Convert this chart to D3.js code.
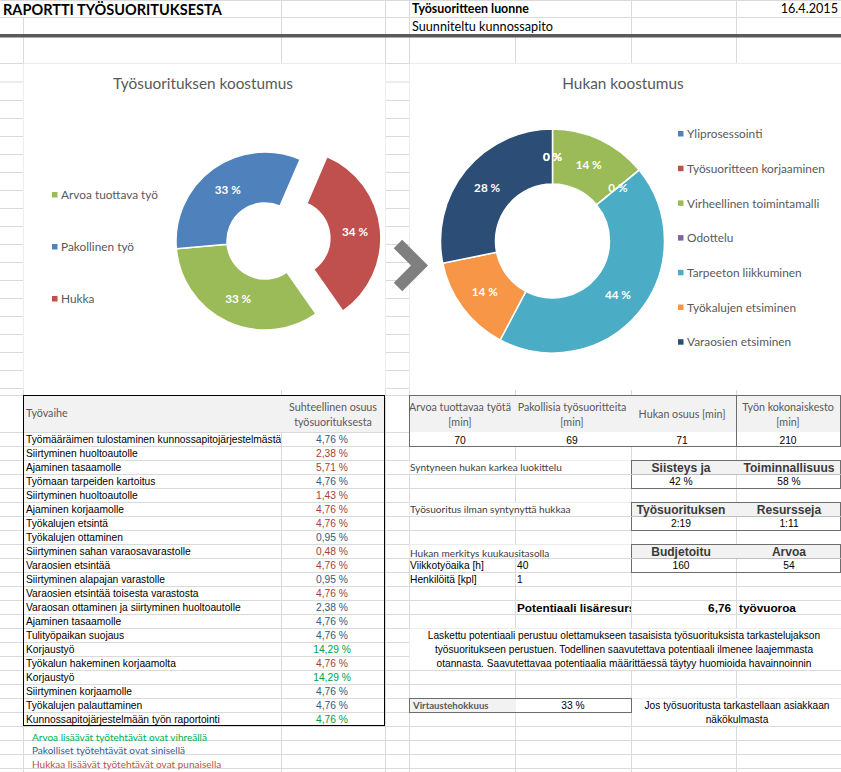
<!DOCTYPE html>
<html>
<head>
<meta charset="utf-8">
<script src="https://cdn.jsdelivr.net/npm/d3@7"></script>
<style>
  body { margin: 0; background: #fff; }
  svg { display: block; }
  text { font-family: Lato, "Open Sans", sans-serif; }
  .px { font-family: "Liberation Sans", Arial, sans-serif; }
</style>
</head>
<body>
<svg></svg>
<script>
// --- data ---
const workCategories = ['Arvoa tuottava työ', 'Pakollinen työ', 'Hukka']
const workMinutes = [70, 69, 71]
const workColors = ['#9bbb59', '#4f81bd', '#c0504d']

const wasteCategories = [
  'Yliprosessointi',
  'Työsuoritteen korjaaminen',
  'Virheellinen toimintamalli',
  'Odottelu',
  'Tarpeeton liikkuminen',
  'Työkalujen etsiminen',
  'Varaosien etsiminen',
]
const wasteMinutes = [0, 0, 10, 0, 31, 10, 20]
const wasteColors = ['#4f81bd', '#c0504d', '#9bbb59', '#8064a2', '#4bacc6', '#f79646', '#2c4d75']

const steps = [
  'Työmääräimen tulostaminen kunnossapitojärjestelmästä',
  'Siirtyminen huoltoautolle',
  'Ajaminen tasaamolle',
  'Työmaan tarpeiden kartoitus',
  'Siirtyminen huoltoautolle',
  'Ajaminen korjaamolle',
  'Työkalujen etsintä',
  'Työkalujen ottaminen',
  'Siirtyminen sahan varaosavarastolle',
  'Varaosien etsintää',
  'Siirtyminen alapajan varastolle',
  'Varaosien etsintää toisesta varastosta',
  'Varaosan ottaminen ja siirtyminen huoltoautolle',
  'Ajaminen tasaamolle',
  'Tulityöpaikan suojaus',
  'Korjaustyö',
  'Työkalun hakeminen korjaamolta',
  'Korjaustyö',
  'Siirtyminen korjaamolle',
  'Työkalujen palauttaminen',
  'Kunnossapitojärjestelmään työn raportointi',
]
const stepShares = [4.76, 2.38, 5.71, 4.76, 1.43, 4.76, 4.76, 0.95, 0.48, 4.76, 0.95,
  4.76, 2.38, 4.76, 4.76, 14.29, 4.76, 14.29, 4.76, 4.76, 4.76]
// a = arvoa tuottava, p = pakollinen, h = hukka
const stepTypes = ['p', 'h', 'h', 'p', 'h', 'h', 'h', 'p', 'h', 'h', 'p',
  'h', 'p', 'p', 'p', 'a', 'h', 'a', 'p', 'p', 'a']
const typeColors = { a: '#00a04a', p: '#2f5b86', h: '#a33f3d' }

const minuteHeaders = [['Arvoa tuottavaa työtä', '[min]'], ['Pakollisia työsuoritteita', '[min]'], ['Hukan osuus [min]'], ['Työn kokonaiskesto', '[min]']]
const minuteValues = ['70', '69', '71', '210']
const wasteClassHeaders = ['Siisteys ja', 'Toiminnallisuus']
const wasteClassValues = ['42 %', '58 %']
const noWasteHeaders = ['Työsuorituksen', 'Resursseja']
const noWasteValues = ['2:19', '1:11']
const monthHeaders = ['Budjetoitu', 'Arvoa']
const monthValues = ['160', '54']
const notes = [
  ['Arvoa lisäävät työtehtävät ovat vihreällä', '#00b050'],
  ['Pakolliset työtehtävät ovat sinisellä', '#366092'],
  ['Hukkaa lisäävät työtehtävät ovat punaisella', '#c0504d'],
]
const paragraph = [
  'Laskettu potentiaali perustuu olettamukseen tasaisista työsuorituksista tarkastelujakson',
  'työsuoritukseen perustuen. Todellinen saavutettava potentiaali ilmenee laajemmasta',
  'otannasta. Saavutettavaa potentiaalia määrittäessä täytyy huomioida havainnoinnin',
]

// --- sheet ---
const W = 841, H = 772
const svg = d3.select('svg').attr('width', W).attr('height', H)

// font size that makes a sample string a given width
function sizeFor(sample, cls, weight, width) {
  const t = svg.append('text').attr('class', cls).style('font-weight', weight)
    .style('font-size', '20px').text(sample)
  const len = t.node().getComputedTextLength()
  t.remove()
  return 20 * width / len
}
const fs = {
  title: sizeFor('RAPORTTI TYÖSUORITUKSESTA', '', 'bold', 219),
  headBold: sizeFor('Työsuoritteen luonne', '', 'bold', 117),
  head: sizeFor('Suunniteltu kunnossapito', '', 'normal', 141),
  chartTitle: sizeFor('Työsuorituksen koostumus', '', 'normal', 180),
  legend: sizeFor('Työsuoritteen korjaaminen', '', 'normal', 138),
  slice: sizeFor('44 %', '', 'bold', 26),
  thead: sizeFor('Suhteellinen osuus', '', 'normal', 88),
  section: sizeFor('Syntyneen hukan karkea luokittelu', '', 'normal', 152),
  boxHead: sizeFor('Toiminnallisuus', 'px', 'bold', 91),
  cell: sizeFor('Kunnossapitojärjestelmään työn raportointi', 'px', 'normal', 194),
  para: sizeFor(paragraph[0], 'px', 'normal', 393),
  note: sizeFor(notes[0][0], '', 'normal', 175),
  pot: sizeFor('Potentiaali lisäresur', 'px', 'bold', 112),
}

const colX = [0, 23, 281, 385, 409, 515, 631, 736, 841]
const rowY = [0, 17, 36, 63, 81.5, 100].concat(d3.range(118, 389, 18), [395], d3.range(432, 773, 14))

const grid = svg.append('g').attr('stroke', '#dadada').attr('stroke-width', 1)
grid.selectAll('line.h').data(rowY.filter(y => y !== 36)).enter().append('line')
  .attr('x1', 0).attr('x2', W).attr('y1', d => d + 0.5).attr('y2', d => d + 0.5)
grid.selectAll('line.v').data(colX.slice(1, -1)).enter().append('line')
  .attr('x1', d => d + 0.5).attr('x2', d => d + 0.5)
  .attr('y1', d => d === 23 ? 17 : d === 515 ? 36 : 0).attr('y2', H)

// white areas (charts, merged cells, overflowing text)
const white = [[23, 63.5, 362, 326.5], [409, 63.5, 432, 326.5], [409, 628.5, 432, 41.5], [631.5, 698.5, 209.5, 27],
  [409, 460.5, 222, 13.5], [409, 502.5, 222, 13.5], [409, 544.5, 222, 13.5]]
svg.selectAll('rect.white').data(white).enter().append('rect')
  .attr('x', d => d[0] + 0.5).attr('y', d => d[1]).attr('width', d => d[2]).attr('height', d => d[3])
  .attr('fill', '#fff')

// header
svg.append('rect').attr('x', 0).attr('y', 34).attr('width', W).attr('height', 3.5).attr('fill', '#595959')
svg.append('text').attr('x', 3).attr('y', 14.5).style('font-weight', 'bold').style('font-size', fs.title + 'px')
  .attr('fill', '#000').text('RAPORTTI TYÖSUORITUKSESTA')
svg.append('text').attr('x', 412).attr('y', 13).style('font-weight', 'bold').style('font-size', fs.headBold + 'px')
  .text('Työsuoritteen luonne')
svg.append('text').attr('x', 838).attr('y', 13).attr('text-anchor', 'end').style('font-size', fs.head + 'px')
  .text('16.4.2015')
svg.append('text').attr('x', 412).attr('y', 31).style('font-size', fs.head + 'px')
  .text('Suunniteltu kunnossapito')

// --- donut charts ---
const toRad = Math.PI / 180

function donut(opt) {
  const g = svg.append('g').attr('transform', `translate(${opt.cx},${opt.cy})`)
  const pie = d3.pie().sort(null).startAngle(opt.start * toRad).endAngle(opt.start * toRad + 2 * Math.PI)
  const arc = d3.arc().innerRadius(opt.inner).outerRadius(opt.outer)
  const arcs = pie(opt.values)
  const shift = d => {
    if (opt.explode !== d.index) return [0, 0]
    const a = (d.startAngle + d.endAngle) / 2
    return [Math.sin(a) * opt.offset, -Math.cos(a) * opt.offset]
  }
  g.selectAll('path').data(arcs).enter().append('path')
    .attr('d', arc)
    .attr('transform', d => `translate(${shift(d)})`)
    .attr('fill', d => opt.colors[d.index])
    .attr('stroke', '#fff').attr('stroke-width', 1.5)
  const total = d3.sum(opt.values)
  g.selectAll('text').data(arcs).enter().append('text')
    .attr('transform', d => {
      const c = arc.centroid(d), s = shift(d)
      return `translate(${c[0] + s[0]},${c[1] + s[1]})`
    })
    .attr('text-anchor', 'middle').attr('dy', '0.36em')
    .style('font-weight', 'bold').style('font-size', fs.slice + 'px').attr('fill', '#fff')
    .text(d => Math.round(d.value / total * 100) + ' %')

  svg.append('text').attr('x', opt.titleX).attr('y', 89).attr('text-anchor', 'middle')
    .style('font-size', fs.chartTitle + 'px').attr('fill', '#595959').text(opt.title)

  const lg = svg.append('g').selectAll('g').data(opt.labels).enter().append('g')
    .attr('transform', (d, i) => `translate(${opt.legendX},${opt.legendY + i * opt.legendStep})`)
  lg.append('rect').attr('x', -9).attr('y', -3).attr('width', 5.5).attr('height', 5.5)
    .attr('fill', (d, i) => opt.colors[i])
  lg.append('text').attr('dy', '0.36em').style('font-size', fs.legend + 'px').attr('fill', '#595959')
    .text(d => d)
}

donut({
  cx: 265, cy: 241, inner: 38, outer: 89, start: 145,
  values: workMinutes, colors: workColors, labels: workCategories,
  explode: 2, offset: 27,
  title: 'Työsuorituksen koostumus', titleX: 203,
  legendX: 61, legendY: 195, legendStep: 52,
})
donut({
  cx: 552.5, cy: 241, inner: 57, outer: 112, start: 0,
  values: wasteMinutes, colors: wasteColors, labels: wasteCategories,
  explode: -1, offset: 0,
  title: 'Hukan koostumus', titleX: 623,
  legendX: 687, legendY: 134, legendStep: 34.7,
})

// arrow between charts
svg.append('polyline').attr('points', '398,244 419.5,265.5 398,287')
  .attr('fill', 'none').attr('stroke', '#7f7f7f').attr('stroke-width', 12)
  .attr('stroke-linejoin', 'miter')

// --- left table ---
svg.append('rect').attr('x', 23.5).attr('y', 395.5).attr('width', 361).attr('height', 36.5).attr('fill', '#f2f2f2')
svg.append('rect').attr('x', 23.5).attr('y', 395.5).attr('width', 361).attr('height', 330)
  .attr('fill', 'none').attr('stroke', '#000')
svg.append('text').attr('x', 26).attr('y', 417).style('font-size', fs.thead + 'px').attr('fill', '#595959').text('Työvaihe')
svg.append('text').attr('x', 333).attr('y', 411).attr('text-anchor', 'middle').style('font-size', fs.thead + 'px')
  .attr('fill', '#595959').text('Suhteellinen osuus')
svg.append('text').attr('x', 333).attr('y', 426).attr('text-anchor', 'middle').style('font-size', fs.thead + 'px')
  .attr('fill', '#595959').text('työsuorituksesta')

svg.append('clipPath').attr('id', 'stepclip').append('rect').attr('x', 23).attr('y', 430).attr('width', 258).attr('height', 300)
const rowTop = i => 432 + i * 14
svg.append('g').attr('clip-path', 'url(#stepclip)').selectAll('text').data(steps).enter().append('text')
  .attr('class', 'px').attr('x', 26).attr('y', (d, i) => rowTop(i) + 11)
  .style('font-size', fs.cell + 'px').attr('fill', '#000').text(d => d)
svg.append('g').selectAll('text').data(stepShares).enter().append('text')
  .attr('class', 'px').attr('x', 332).attr('y', (d, i) => rowTop(i) + 11).attr('text-anchor', 'middle')
  .style('font-size', fs.cell + 'px').attr('fill', (d, i) => typeColors[stepTypes[i]])
  .text(d => d3.format('.2f')(d).replace('.', ',') + ' %')

svg.append('g').selectAll('text').data(notes).enter().append('text')
  .attr('x', 32).attr('y', (d, i) => 741 + i * 13.3).style('font-size', fs.note + 'px')
  .attr('fill', d => d[1]).text(d => d[0])

// --- right side tables ---
const border = '#6d6d6d'
function box(x, y, w, h, fill) {
  svg.append('rect').attr('x', x + 0.5).attr('y', y + 0.5).attr('width', w).attr('height', h)
    .attr('fill', fill || 'none').attr('stroke', border)
}
function cellText(x, y, str, opt) {
  opt = opt || {}
  return svg.append('text').attr('class', opt.cls === undefined ? 'px' : opt.cls)
    .attr('x', x).attr('y', y).attr('text-anchor', opt.anchor || 'middle')
    .style('font-size', (opt.size || fs.cell) + 'px').style('font-weight', opt.weight || 'normal')
    .attr('fill', opt.fill || '#000').text(str)
}

// minutes box
svg.append('rect').attr('x', 409.5).attr('y', 395.5).attr('width', 431).attr('height', 36.5).attr('fill', '#f2f2f2')
svg.append('rect').attr('x', 409.5).attr('y', 432).attr('width', 431).attr('height', 14).attr('fill', '#fff')
box(409, 395, 327, 51)
box(736, 395, 104, 51)
const minuteCenters = [460, 572, 682, 788]
minuteHeaders.forEach((lines, i) => {
  lines.forEach((l, j) => {
    const y = lines.length === 1 ? 418 : 411 + j * 15
    cellText(minuteCenters[i], y, l, { cls: '', size: fs.thead, fill: '#595959' })
  })
  cellText(minuteCenters[i], 443.5, minuteValues[i])
})

const sectionStyle = { cls: '', anchor: 'start', size: fs.section, weight: 'normal', fill: '#404040' }
function headerBox(y, headers, values) {
  svg.append('rect').attr('x', 631.5).attr('y', y + 0.5).attr('width', 209).attr('height', 14).attr('fill', '#f2f2f2')
  box(631, y, 209, 28)
  svg.append('line').attr('x1', 631).attr('x2', 841).attr('y1', y + 14.5).attr('y2', y + 14.5).attr('stroke', '#bfbfbf')
  headers.forEach((h, i) => cellText([681, 789][i], y + 11.5, h, { weight: 'bold', size: fs.boxHead, fill: '#3a3a3a' }))
  values.forEach((v, i) => cellText([681, 789][i], y + 25, v))
}
cellText(410, 471, 'Syntyneen hukan karkea luokittelu', sectionStyle)
headerBox(460, wasteClassHeaders, wasteClassValues)
cellText(410, 512.5, 'Työsuoritus ilman syntynyttä hukkaa', sectionStyle)
headerBox(502, noWasteHeaders, noWasteValues)
cellText(410, 556.5, 'Hukan merkitys kuukausitasolla', sectionStyle)
headerBox(544, monthHeaders, monthValues)
cellText(410, 568.5, 'Viikkotyöaika [h]', { anchor: 'start' })
cellText(517, 568.5, '40', { anchor: 'start' })
cellText(410, 582.5, 'Henkilöitä [kpl]', { anchor: 'start' })
cellText(517, 582.5, '1', { anchor: 'start' })

svg.append('clipPath').attr('id', 'potclip').append('rect').attr('x', 515).attr('y', 598).attr('width', 116).attr('height', 16)
cellText(517, 611.5, 'Potentiaali lisäresurssit', { anchor: 'start', weight: 'bold', size: fs.pot })
  .attr('clip-path', 'url(#potclip)')
cellText(731, 611.5, '6,76', { anchor: 'end', weight: 'bold', size: fs.pot })
cellText(739, 611.5, 'työvuoroa', { anchor: 'start', weight: 'bold', size: fs.pot })

paragraph.forEach((l, i) => cellText(624, 639 + i * 14, l, { size: fs.para }))

svg.append('rect').attr('x', 409.5).attr('y', 698.5).attr('width', 106).attr('height', 13.5).attr('fill', '#f2f2f2')
svg.append('rect').attr('x', 515.5).attr('y', 698.5).attr('width', 115.5).attr('height', 13.5).attr('fill', '#fff')
box(409, 698, 222, 14)
cellText(413, 708.5, 'Virtaustehokkuus', Object.assign({}, sectionStyle, { weight: 'bold', fill: '#595959', size: fs.section * 0.95 }))
cellText(573, 708.5, '33 %')
cellText(737, 708.5, 'Jos työsuoritusta tarkastellaan asiakkaan', { size: fs.para })
cellText(737, 722.5, 'näkökulmasta', { size: fs.para })
</script>
</body>
</html>
